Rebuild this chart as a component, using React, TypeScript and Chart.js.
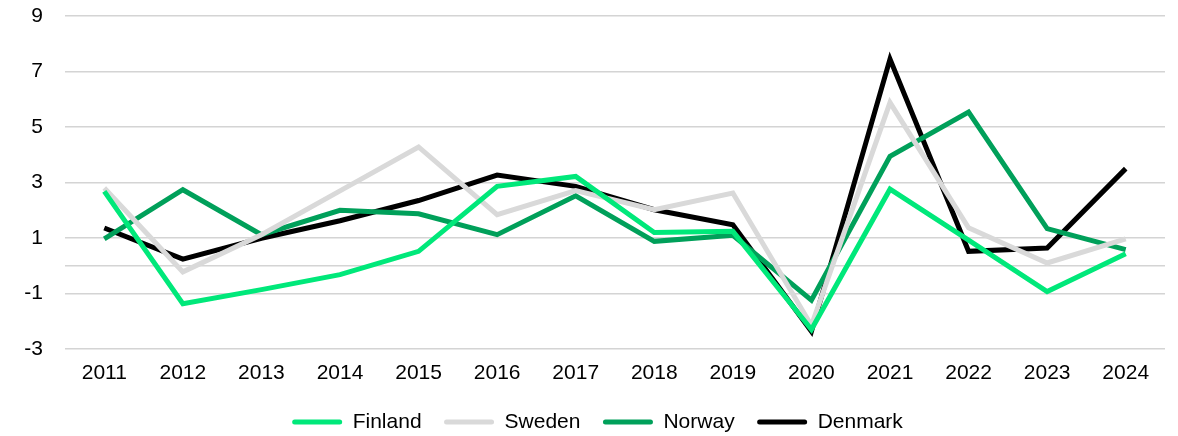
import React, { useEffect, useRef } from "react";
import { Chart, registerables } from "chart.js";

Chart.register(...registerables);

const categories = ["2011","2012","2013","2014","2015","2016","2017","2018","2019","2020","2021","2022","2023","2024"];
const finland = [2.68, -1.37, -0.86, -0.32, 0.52, 2.86, 3.22, 1.2, 1.24, -2.3, 2.76, 0.92, -0.93, 0.43];
const sweden = [2.8, -0.22, 1.12, 2.7, 4.28, 1.84, 2.71, 2.02, 2.62, -2.15, 5.88, 1.37, 0.1, 0.97];
const norway = [0.97, 2.74, 1.12, 2.0, 1.87, 1.12, 2.52, 0.88, 1.1, -1.24, 3.94, 5.54, 1.34, 0.58];
const denmark = [1.36, 0.24, 0.99, 1.62, 2.35, 3.27, 2.86, 2.02, 1.48, -2.37, 7.45, 0.52, 0.64, 3.5];
const yTicks = [-3, -1, 0, 1, 3, 5, 7, 9];

const FONT = "'Liberation Sans', Arial, sans-serif";

const legendShift = {
  id: "legendShift",
  afterLayout(chart: any) {
    const lg = chart.legend;
    if (lg) {
      lg.left += 15;
      lg.right += 15;
    }
  },
};

export default function App() {
  const ref = useRef<HTMLCanvasElement | null>(null);
  useEffect(() => {
    document.body.style.margin = "0";
    const ctx = ref.current!;
    const mk = (label: string, data: number[], color: string) => ({
      label,
      data,
      borderColor: color,
      backgroundColor: color,
      borderWidth: 5,
      pointRadius: 0,
      tension: 0,
      borderJoinStyle: "miter" as const,
    });
    const chart = new Chart(ctx, {
      type: "line",
      data: {
        labels: categories,
        datasets: [
          mk("Finland", finland, "#00E87A"),
          mk("Sweden", sweden, "#D9D9D9"),
          mk("Norway", norway, "#00A05A"),
          mk("Denmark", denmark, "#000000"),
        ],
      },
      plugins: [legendShift],
      options: {
        animation: false,
        responsive: false,
        layout: { padding: { top: 16, right: 13, left: 0, bottom: -6.5 } },
        plugins: {
          tooltip: { enabled: false },
          legend: {
            position: "bottom",
            labels: {
              boxWidth: 50,
              boxHeight: 5,
              padding: 22.5,
              color: "#000",
              useBorderRadius: true,
              borderRadius: 2.5,
              font: { family: FONT, size: 21 },
              generateLabels: (c: any) =>
                Chart.defaults.plugins.legend.labels
                  .generateLabels(c)
                  .map((l: any) => ({ ...l, lineWidth: 0 })),
            },
          },
        },
        scales: {
          x: {
            offset: true,
            grid: { display: false, drawTicks: false },
            border: { display: false },
            afterFit: (axis: any) => {
              axis.height = 40;
            },
            ticks: {
              color: "#000",
              padding: 12,
              maxRotation: 0,
              font: { family: FONT, size: 21 },
            },
          },
          y: {
            min: -3,
            max: 9,
            afterBuildTicks: (axis: any) => {
              axis.ticks = yTicks.map((v) => ({ value: v }));
            },
            afterFit: (axis: any) => {
              axis.width = 65;
              axis.paddingTop = 0;
              axis.paddingBottom = 0;
            },
            grid: { color: "#D4D4D4", lineWidth: 1.5, drawTicks: false },
            border: { display: false },
            ticks: {
              color: "#000",
              padding: 22,
              font: { family: FONT, size: 21 },
              callback: (v: any) => (Number(v) === 0 ? "" : String(v)),
            },
          },
        },
      },
    });
    return () => chart.destroy();
  }, []);
  return <canvas ref={ref} width={1178} height={436} style={{ display: "block" }} />;
}
